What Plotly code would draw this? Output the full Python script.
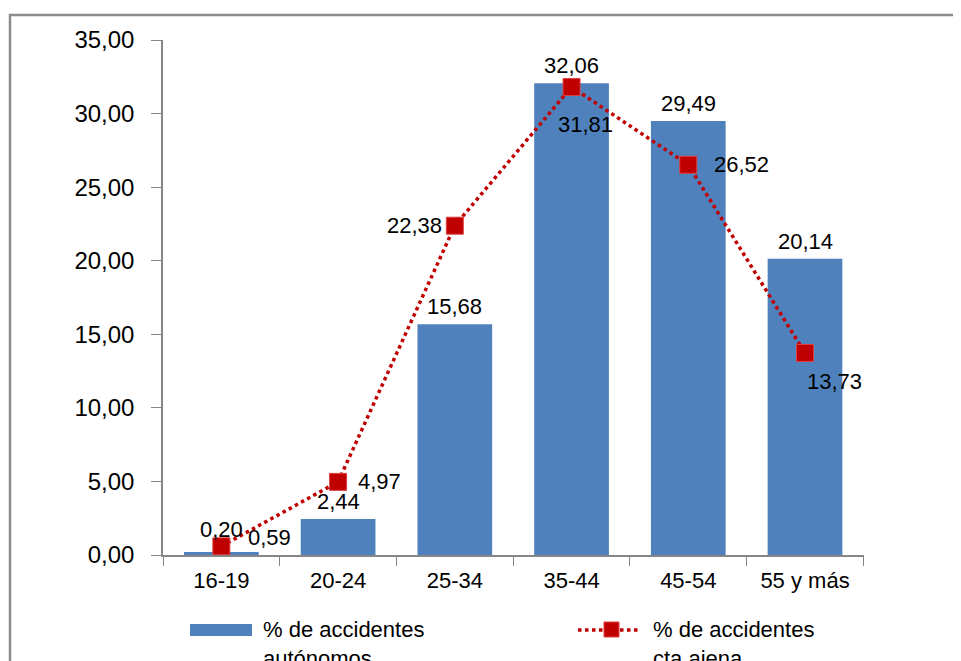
import plotly.graph_objects as go

categories = ["16-19", "20-24", "25-34", "35-44", "45-54", "55 y más"]
autonomos = [0.20, 2.44, 15.68, 32.06, 29.49, 20.14]
cta_ajena = [0.59, 4.97, 22.38, 31.81, 26.52, 13.73]
series_names = ["% de accidentes<br>autónomos", "% de accidentes<br>cta ajena"]

# label offsets (px) for value labels (styling only)
bar_label_shift = [8, 3, 3, 3, 3, 3]
line_label_shift = [(25, 9, "left"), (18, 0, "left"), (-11, 0, "right"),
                    (14, -38, "center"), (24, 0, "left"), (0, -29, "left")]

W, H = 961, 661
OFF = 8  # page offset of the figure in the screenshot
ML, MR, MT, MB = 163 - OFF, 105, 40 - OFF, 114
PW, PH = W - ML - MR, H - MT - MB

def px2x(px):
    return (px - OFF - ML) / PW

def px2y(py):
    return (H - MB - (py - OFF)) / PH

FONT = "Liberation Sans, Arial, sans-serif"
BLUE = "#4F81BD"
RED = "#C00000"

def fmt(v):
    return f"{v:.2f}".replace(".", ",")

fig = go.Figure()
fig.add_trace(go.Bar(
    x=categories, y=autonomos, name=series_names[0],
    marker=dict(color=BLUE, line=dict(width=0)),
    width=0.64, showlegend=False,
))
fig.add_trace(go.Scatter(
    x=categories, y=cta_ajena, name=series_names[1], mode="lines+markers",
    line=dict(color=RED, width=3.5, dash="dot"),
    marker=dict(symbol="square", size=17, color=RED,
                line=dict(color="#E04040", width=1)),
    cliponaxis=False, showlegend=False,
))

annotations = []
for c, v, dy in zip(categories, autonomos, bar_label_shift):
    annotations.append(dict(
        x=c, y=v, xref="x", yref="y", text=fmt(v), showarrow=False,
        xanchor="center", yanchor="bottom", yshift=dy,
        font=dict(size=22, color="#000000", family=FONT),
    ))
for c, v, (dx, dy, al) in zip(categories, cta_ajena, line_label_shift):
    annotations.append(dict(
        x=c, y=v, xref="x", yref="y", text=fmt(v), showarrow=False,
        xanchor=al, yanchor="middle", xshift=dx, yshift=dy,
        font=dict(size=22, color="#000000", family=FONT),
    ))

# manual legend
for name, xpx in zip(series_names, [261, 651]):
    annotations.append(dict(x=px2x(xpx), y=px2y(615), xref="paper", yref="paper",
                            text=name, showarrow=False, xanchor="left",
                            yanchor="top", align="left",
                            font=dict(size=22, color="#000000", family=FONT)))

shapes = [
    # outer chart border
    dict(type="rect", xref="paper", yref="paper",
         x0=px2x(10), x1=px2x(1000), y0=px2y(15), y1=px2y(720),
         line=dict(color="#8C8C8C", width=2.5), layer="below"),
    # legend swatch bar
    dict(type="rect", xref="paper", yref="paper",
         x0=px2x(190), x1=px2x(252), y0=px2y(624), y1=px2y(636),
         fillcolor=BLUE, line=dict(width=0)),
    # legend line
    dict(type="line", xref="paper", yref="paper",
         x0=px2x(578), x1=px2x(641), y0=px2y(630), y1=px2y(630),
         line=dict(color=RED, width=3.5, dash="dot")),
    dict(type="rect", xref="paper", yref="paper",
         x0=px2x(604), x1=px2x(619), y0=px2y(622), y1=px2y(637),
         fillcolor=RED, line=dict(color="#E04040", width=1)),
]

fig.update_layout(
    width=W, height=H,
    margin=dict(l=ML, r=MR, t=MT, b=MB),
    plot_bgcolor="white", paper_bgcolor="white",
    separators=",.",
    font=dict(family=FONT, size=22, color="#000000"),
    annotations=annotations, shapes=shapes,
)
fig.update_xaxes(
    type="category", tickson="boundaries", ticks="outside", ticklen=9,
    tickcolor="#868686", showline=True, linecolor="#868686", linewidth=1.5,
    showgrid=False, tickfont=dict(size=22, family=FONT, color="#000000"),
    ticklabelstandoff=5,
)
fig.update_yaxes(
    range=[0, 35], dtick=5, tickformat=".2f", ticks="outside", ticklen=10,
    tickcolor="#868686", showline=True, linecolor="#868686", linewidth=1.5,
    showgrid=False, zeroline=False,
    tickfont=dict(size=24, family=FONT, color="#000000"),
    ticklabelstandoff=12,
)

fig.write_html("out.html")
